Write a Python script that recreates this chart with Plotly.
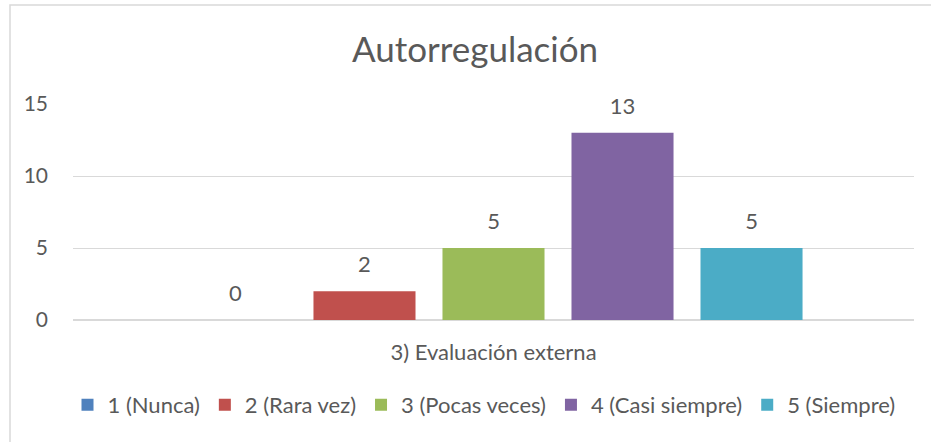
import plotly.graph_objects as go

categories = ["3) Evaluación externa"]
series_names = ["1 (Nunca)", "2 (Rara vez)", "3 (Pocas veces)", "4 (Casi siempre)", "5 (Siempre)"]
series_values = [[0], [2], [5], [13], [5]]
colors = ["#4F81BD", "#C0504D", "#9BBB59", "#8064A2", "#4BACC6"]
y_ticks = [0, 5, 10, 15]

FONT = "Lato"
TXT = "#595959"
GRID = "#D9D9D9"
FS = 22

W, H = 931, 442
L, R, T, B = 73, 17, 104, 122
pw, ph = W - L - R, H - T - B

fig = go.Figure()
for name, vals, col in zip(series_names, series_values, colors):
    fig.add_trace(go.Bar(
        x=categories, y=vals, name=name, marker=dict(color=col, line=dict(width=0)),
        text=vals,
        texttemplate="<span style='font-size:%dpx'>%%{y}</span><br> " % FS,
        textposition="outside",
        textfont=dict(family=FONT, size=11, color=TXT), cliponaxis=False,
    ))

def px_to_paper_x(px):
    return (px - L) / pw

def px_to_paper_y(py):
    return 1 - (py - T) / ph

fig.add_shape(type="rect", xref="paper", yref="paper",
              x0=px_to_paper_x(10), x1=px_to_paper_x(W + 20),
              y0=px_to_paper_y(H + 20), y1=px_to_paper_y(5),
              line=dict(color=GRID, width=1.5), fillcolor="rgba(0,0,0,0)", layer="below")

fig.update_layout(
    width=W, height=H,
    margin=dict(l=L, r=R, t=T, b=B, pad=0),
    paper_bgcolor="white", plot_bgcolor="white",
    barmode="group", bargap=0.233, bargroupgap=0.209,
    title=dict(text="Autorregulación", x=475 / W, xanchor="center", y=1 - 50 / H, yanchor="middle",
               font=dict(family=FONT, size=35, color=TXT)),
    font=dict(family=FONT, size=FS, color=TXT),
    showlegend=True,
    legend=dict(orientation="h", x=px_to_paper_x(484), xanchor="center",
                y=px_to_paper_y(405), yanchor="middle",
                font=dict(family=FONT, size=22, color=TXT), traceorder="normal",
                itemwidth=30, bgcolor="rgba(0,0,0,0)"),
    xaxis=dict(showgrid=False, showline=False, ticks="", ticklabelstandoff=17,
               tickfont=dict(family=FONT, size=FS, color=TXT)),
    yaxis=dict(range=[0, 15], tickvals=y_ticks, showgrid=True, gridcolor=GRID, gridwidth=1.3,
               zeroline=True, zerolinecolor=GRID, zerolinewidth=1.5, showline=False, ticks="",
               ticklabelstandoff=24, tickfont=dict(family=FONT, size=21, color=TXT)),
)

fig.write_html("out.html", config={"displayModeBar": False},
               post_script="document.body.style.margin='0';")
